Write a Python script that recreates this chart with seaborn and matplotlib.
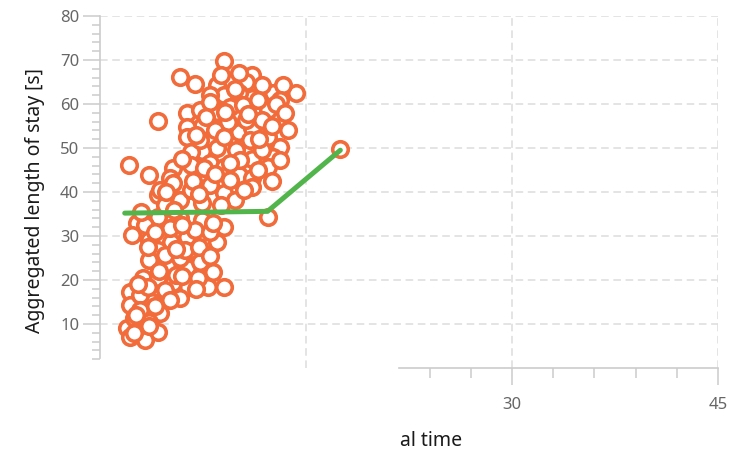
import numpy as np
import pandas as pd
import matplotlib
matplotlib.use("Agg")
import matplotlib.pyplot as plt
import seaborn as sns

# Individual visits: arrival time and aggregated length of stay
arrival = [
    9.0, 5.8, 6.9, 11.1, 9.5, 10.6, 8.5, 10.1, 12.6, 14.3,
    13.3, 9.0, 11.1, 10.1, 9.5, 12.2, 8.5, 10.4, 6.3, 4.2,
    7.4, 6.3, 10.1, 11.1, 13.7, 6.3, 12.2, 10.9, 13.1, 8.5,
    7.4, 6.6, 11.1, 12.6, 8.0, 5.3, 9.0, 10.1, 7.4, 5.1,
    11.1, 12.2, 2.1, 9.0, 11.1, 5.3, 4.2, 5.8, 7.4, 2.7,
    4.2, 5.8, 7.4, 9.0, 12.2, 2.3, 3.6, 5.2, 6.3, 8.5,
    4.2, 3.6, 4.9, 6.9, 7.8, 6.3, 3.1, 4.2, 5.3, 6.4,
    7.9, 9.0, 2.2, 3.8, 5.8, 2.2, 4.4, 3.1, 2.0, 4.2,
    2.2, 3.1, 17.5, 8.0, 11.8, 9.3, 8.4, 7.3, 9.9, 11.8,
    6.6, 10.2, 4.4, 6.6, 8.0, 9.8, 4.7, 3.3, 5.1, 6.9,
    8.0, 4.7, 5.8, 7.3, 8.2, 7.1, 4.7, 2.9, 5.1, 2.9,
    3.6, 2.5, 3.3, 9.1, 13.1, 11.8, 10.6, 7.3, 3.6, 13.1,
    9.5, 5.5, 6.2,
    8.0, 9.8, 11.5, 12.8, 7.7, 10.8, 12.5, 9.0, 11.6, 7.0,
    13.5, 8.8, 6.0, 7.6, 9.5, 11.5, 6.8, 8.4, 10.5, 4.8,
    8.8, 7.2, 12.5, 3.0, 4.0, 6.0, 8.2, 5.4, 3.5, 5.5,
    7.2, 8.0, 4.3, 6.0, 7.0, 3.5, 2.8, 4.0, 2.6, 3.6,
    2.5,
]
stay = [
    69.8, 66.1, 64.5, 66.6, 65.0, 65.0, 64.3, 67.0, 62.5, 62.5,
    64.3, 62.0, 61.4, 62.5, 59.3, 58.6, 58.2, 59.8, 58.0, 56.1,
    55.0, 54.8, 53.6, 54.5, 54.1, 52.5, 52.5, 51.8, 50.2, 50.0,
    49.3, 49.1, 47.5, 48.0, 46.6, 45.5, 45.7, 43.9, 43.4, 43.2,
    43.2, 45.7, 46.1, 39.8, 41.1, 42.0, 39.3, 38.2, 37.5, 33.0,
    34.3, 34.1, 33.6, 32.0, 34.3, 30.2, 29.1, 28.6, 29.8, 28.6,
    26.8, 24.5, 23.4, 23.4, 22.7, 22.7, 20.5, 20.5, 19.3, 18.4,
    18.4, 18.4, 17.3, 15.0, 15.9, 14.3, 12.5, 10.9, 9.1, 8.2,
    7.0, 8.2, 49.8, 62.0, 64.3, 55.9, 54.1, 51.8, 49.5, 49.5,
    46.1, 47.3, 40.5, 40.5, 41.6, 38.2, 37.0, 32.5, 31.8, 31.4,
    30.9, 25.7, 25.0, 24.1, 21.8, 20.5, 17.7, 16.6, 15.5, 13.2,
    10.5, 11.4, 6.4, 58.2, 60.9, 56.4, 56.4, 58.6, 43.9, 47.3,
    42.7, 21.1, 26.8,
    60.5, 63.5, 61.0, 60.0, 57.0, 57.8, 55.0, 52.5, 52.0, 53.0,
    58.0, 66.5, 47.5, 45.5, 46.5, 45.0, 42.5, 44.0, 40.5, 40.0,
    37.0, 39.5, 42.5, 35.5, 31.0, 32.5, 33.0, 36.0, 27.5, 27.0,
    27.5, 25.5, 22.0, 21.0, 18.0, 18.5, 19.0, 14.0, 12.0, 9.5,
    8.0,
]

# Trend of the length of stay over arrival time
trend_x = [1.8, 12.2, 17.5]
trend_y = [35.2, 35.6, 49.5]

y_major = [10, 20, 30, 40, 50, 60, 70, 80]
x_labelled = [30, 45]

ORANGE = "#f26b3a"
GREEN = "#52b54b"
AXIS = "#cccccc"
GRID = "#dddddd"
TICKTXT = "#666666"

sns.set_style("white")
plt.rcParams["font.family"] = ["Noto Sans", "DejaVu Sans"]

fig = plt.figure(figsize=(7.30, 4.57), dpi=100)
ax = fig.add_axes([100 / 730, 1 - 368 / 457, 618 / 730, 352 / 457])

visits = pd.DataFrame({"arrival": arrival, "stay": stay})
trend = pd.DataFrame({"arrival": trend_x, "stay": trend_y})

sns.scatterplot(data=visits, x="arrival", y="stay", ax=ax, s=125,
                facecolor="white", edgecolor=ORANGE, linewidth=2.6,
                zorder=3, legend=False)
sns.lineplot(data=trend, x="arrival", y="stay", ax=ax, color=GREEN,
             linewidth=3.6, zorder=4, legend=False)

ax.set_xlim(0, 45)
ax.set_ylim(0, 80)

# dashed grid
for v in y_major:
    ax.axhline(v, color=GRID, lw=1.1, ls=(0, (5, 3)), zorder=0)
for v in [15, 30, 45]:
    ax.axvline(v, color=GRID, lw=1.1, ls=(0, (5, 3)), zorder=0)

for side in ["top", "right"]:
    ax.spines[side].set_visible(False)
ax.spines["left"].set_color(AXIS)
ax.spines["bottom"].set_color(AXIS)
ax.spines["left"].set_linewidth(1.2)
ax.spines["bottom"].set_linewidth(1.2)
ax.spines["left"].set_bounds(2.3, 80)
ax.spines["bottom"].set_bounds(21.8, 45)

ax.set_yticks(y_major)
ax.set_yticks(np.arange(2, 80, 2), minor=True)
ax.set_xticks(x_labelled)
ax.set_xticks([24, 27, 33, 36, 39, 42], minor=True)

ax.tick_params(left=True, bottom=True, which="both")
ax.tick_params(axis="y", which="major", length=12, width=1.1, color=AXIS,
               labelcolor=TICKTXT, labelsize=12, pad=3)
ax.tick_params(axis="y", which="minor", length=6, width=1.1, color=AXIS)
ax.tick_params(axis="x", which="major", length=12, width=1.1, color=AXIS,
               labelcolor=TICKTXT, labelsize=12, pad=9)
ax.tick_params(axis="x", which="minor", length=7, width=1.1, color=AXIS)

ax.set_xlabel("")
ax.set_ylabel("Aggregated length of stay [s]", fontsize=14, color="#1a1a1a")
ax.yaxis.set_label_coords(-0.089, 0.475)
fig.text(400 / 730, 1 - 441 / 457, "al time", fontsize=14, color="#1a1a1a",
         ha="left", va="center")

fig.savefig("out.png", dpi=100, facecolor="white")
